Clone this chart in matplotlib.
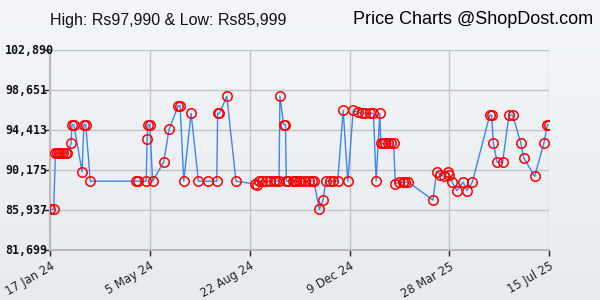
"""ShopDost price history chart"""

import matplotlib
matplotlib.use("Agg")
import matplotlib.pyplot as plt
import matplotlib.transforms as mtransforms
import numpy as np
import pandas as pd

# price history (date, price in Rs)
dates = [
    "2024-01-17", "2024-01-21", "2024-01-23", "2024-01-25", "2024-01-27", "2024-01-29",
    "2024-01-31", "2024-02-03", "2024-02-05", "2024-02-09", "2024-02-10", "2024-02-12",
    "2024-02-21", "2024-02-23", "2024-02-25", "2024-03-01", "2024-04-20", "2024-04-22",
    "2024-05-01", "2024-05-02", "2024-05-03", "2024-05-05", "2024-05-08", "2024-05-20",
    "2024-05-26", "2024-06-05", "2024-06-07", "2024-06-11", "2024-06-19", "2024-06-27",
    "2024-07-08", "2024-07-17", "2024-07-18", "2024-07-20", "2024-07-28", "2024-08-07",
    "2024-08-28", "2024-08-30", "2024-09-01", "2024-09-04", "2024-09-09", "2024-09-13",
    "2024-09-17", "2024-09-20", "2024-09-23", "2024-09-24", "2024-09-28", "2024-09-30",
    "2024-10-01", "2024-10-03", "2024-10-08", "2024-10-10", "2024-10-12", "2024-10-15",
    "2024-10-17", "2024-10-21", "2024-10-26", "2024-10-29", "2024-10-31", "2024-11-06",
    "2024-11-10", "2024-11-13", "2024-11-18", "2024-11-21", "2024-11-26", "2024-12-02",
    "2024-12-07", "2024-12-13", "2024-12-18", "2024-12-23", "2024-12-26", "2024-12-31",
    "2025-01-04", "2025-01-07", "2025-01-11", "2025-01-12", "2025-01-15", "2025-01-17",
    "2025-01-20", "2025-01-23", "2025-01-26", "2025-01-28", "2025-02-01", "2025-02-05",
    "2025-02-08", "2025-02-11", "2025-03-10", "2025-03-14", "2025-03-18", "2025-03-22",
    "2025-03-26", "2025-03-28", "2025-03-31", "2025-04-05", "2025-04-12", "2025-04-16",
    "2025-04-22", "2025-05-11", "2025-05-13", "2025-05-15", "2025-05-19", "2025-05-25",
    "2025-06-01", "2025-06-05", "2025-06-14", "2025-06-17", "2025-06-29", "2025-07-09",
    "2025-07-13", "2025-07-15",
]
prices = [
    85999, 85999, 91990, 91990, 91990, 91990,
    91990, 91990, 91990, 92990, 94990, 94990,
    89990, 94990, 94990, 88990, 88990, 88990,
    88990, 93490, 94990, 94990, 88990, 90990,
    94490, 96990, 96990, 88990, 96190, 88990,
    88990, 88990, 96190, 96190, 97990, 88990,
    88690, 88590, 88990, 88990, 88990, 88990,
    88990, 88990, 88990, 97990, 94990, 94990,
    88990, 88990, 88990, 88990, 88990, 88990,
    88990, 88990, 88990, 88990, 88990, 85999,
    86990, 88990, 88990, 88990, 88990, 96490,
    88990, 96490, 96290, 96190, 96190, 96190,
    96190, 88990, 96190, 92990, 92990, 92990,
    92990, 92990, 92990, 88690, 88890, 88890,
    88890, 88890, 86990, 89990, 89690, 89490,
    89990, 89690, 88890, 87990, 88890, 87990,
    88890, 95990, 95990, 92990, 90990, 90990,
    95990, 95990, 92990, 91490, 89490, 92990,
    94990, 94990,
]

x = pd.to_datetime(dates)
y = np.array(prices)

y_min, y_max = 81699, 102890
y_ticks = np.linspace(y_min, y_max, 6)

fig = plt.figure(figsize=(6, 3), dpi=100)

# light background gradient
bg = fig.add_axes([0, 0, 1, 1], zorder=-1)
grad = np.linspace(0, 1, 256).reshape(-1, 1)
bg.imshow(grad, aspect="auto", cmap=matplotlib.colors.LinearSegmentedColormap.from_list(
    "bg", ["#f4f6f9", "#e7ebef"]), extent=[0, 1, 0, 1])
bg.axis("off")

ax = fig.add_axes([50 / 600, 50 / 300, 499.3 / 600, 200 / 300])
ax.patch.set_alpha(0)

ax.plot(x, y, color="#3d85f0", linewidth=1, zorder=3)
ax.plot(x, y, linestyle="none", marker="o", markersize=6.8, markerfacecolor="none",
        markeredgecolor="#ff0000", markeredgewidth=1.1, zorder=4)

# y labels: left aligned near the figure edge, monospace bold
ax.set_ylim(y_min, y_max)
ax.set_yticks(y_ticks)
ax.set_yticklabels([])
ylab_tr = mtransforms.blended_transform_factory(fig.transFigure, ax.transData)
for v in y_ticks:
    ax.text(5 / 600, v, f"{int(v):,}", transform=ylab_tr, ha="left", va="center",
            family="DejaVu Sans Mono", fontweight="bold", fontsize=8.4, color="#111111",
            clip_on=False)

x_ticks = pd.date_range(x.min(), x.max(), periods=6)
ax.set_xlim(x.min(), x.max())
ax.set_xticks(x_ticks)
ax.set_xticklabels([f"{d.day} {d.strftime('%b %y')}" for d in x_ticks],
                   rotation=30, ha="right", va="top", rotation_mode="anchor", fontsize=8.3,
                   family="DejaVu Sans", color="#222222")
shift = mtransforms.ScaledTranslation(10 / 100, 0, fig.dpi_scale_trans)
for lab in ax.get_xticklabels():
    lab.set_transform(lab.get_transform() + shift)

ax.grid(True, color="#c4c4c4", linewidth=1)
ax.set_axisbelow(True)
for side in ["top", "right"]:
    ax.spines[side].set_visible(False)
for side in ["left", "bottom"]:
    ax.spines[side].set_color("#bbbbbb")
    ax.spines[side].set_linewidth(1.5)
ax.tick_params(axis="y", length=4, width=1, color="#222222", pad=1)
ax.tick_params(axis="x", length=4, width=1, color="#222222", pad=3)

fig.text(50 / 600, 1 - 20 / 300, "High: Rs97,990 & Low: Rs85,999", family="Liberation Sans",
         fontsize=11.5, va="center", ha="left", color="#111111")
fig.text(593 / 600, 1 - 20 / 300, "Price Charts @ShopDost.com", family="Liberation Sans",
         fontsize=13, va="center", ha="right", color="#000000")

fig.savefig("out.png", dpi=100)
